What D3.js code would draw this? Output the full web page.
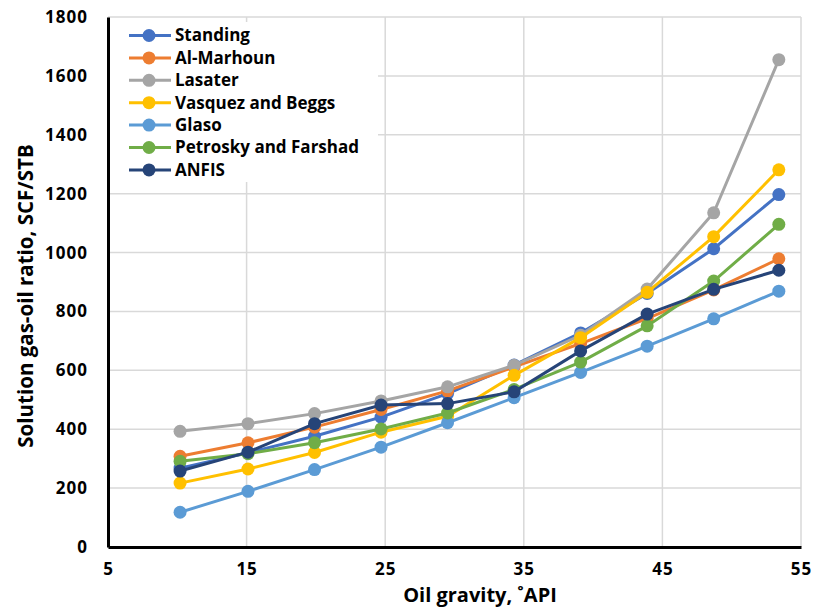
<!DOCTYPE html>
<meta charset="utf-8">
<style>
    body { margin: 0; background: #fff; }
    .tick text { font: bold 17px "Open Sans", sans-serif; fill: #000; letter-spacing: 1px; }
    .title { font: bold 20.5px "Open Sans", sans-serif; fill: #000; }
    .legend text { font: bold 17px "Open Sans", sans-serif; fill: #000; }
    .grid line { stroke: #d9d9d9; stroke-width: 1.5; }
</style>
<body>
<script src="https://d3js.org/d3.v7.min.js"></script>
<script>
    // Data
    var api = [10.2, 15.1, 19.9, 24.7, 29.5, 34.3, 39.1, 43.9, 48.7, 53.4];

    var standing = [268, 320, 376, 441, 521, 618, 727, 861, 1013, 1197];
    var alMarhoun = [308, 354, 407, 467, 530, 612, 691, 776, 873, 979];
    var lasater = [393, 419, 453, 496, 544, 617, 719, 876, 1135, 1655];
    var vasquez = [217, 265, 321, 390, 444, 583, 711, 865, 1054, 1281];
    var glaso = [118, 189, 263, 339, 422, 507, 593, 682, 775, 869];
    var petrosky = [291, 317, 354, 401, 455, 535, 628, 751, 903, 1096];
    var anfis = [258, 322, 419, 482, 487, 527, 666, 791, 875, 940];

    var seriesNames = ["Standing", "Al-Marhoun", "Lasater", "Vasquez and Beggs", "Glaso", "Petrosky and Farshad", "ANFIS"];
    var seriesValues = [standing, alMarhoun, lasater, vasquez, glaso, petrosky, anfis];
    var seriesColors = ["#4472C4", "#ED7D31", "#A5A5A5", "#FFC000", "#5B9BD5", "#70AD47", "#264478"];

    var xTicks = [5, 15, 25, 35, 45, 55];
    var yTicks = [0, 200, 400, 600, 800, 1000, 1200, 1400, 1600, 1800];

    var width = 814, height = 608;
    var margin = {top: 17, right: 13, bottom: 61, left: 108};

    var svg = d3.select("body").append("svg")
        .attr("width", width)
        .attr("height", height);

    var x = d3.scaleLinear().domain([5, 55]).range([margin.left, width - margin.right]);
    var y = d3.scaleLinear().domain([0, 1800]).range([height - margin.bottom, margin.top]);

    // Gridlines
    var grid = svg.append("g").attr("class", "grid");
    grid.selectAll(".h").data(yTicks.slice(1)).enter().append("line")
        .attr("x1", x(5)).attr("x2", x(55))
        .attr("y1", d => y(d)).attr("y2", d => y(d));
    grid.selectAll(".v").data(xTicks.slice(1)).enter().append("line")
        .attr("x1", d => x(d)).attr("x2", d => x(d))
        .attr("y1", y(0)).attr("y2", y(1800));

    // Axes
    var yAxis = svg.append("g")
        .attr("transform", "translate(" + x(5) + ",0)")
        .call(d3.axisLeft(y).tickValues(yTicks).tickFormat(d3.format("d")).tickSize(0).tickPadding(20));
    yAxis.select(".domain").attr("stroke", "#000").attr("stroke-width", 3);

    var xAxis = svg.append("g")
        .attr("transform", "translate(0," + y(0) + ")")
        .call(d3.axisBottom(x).tickValues(xTicks).tickFormat(d3.format("d")).tickSize(0).tickPadding(16));
    xAxis.select(".domain").attr("stroke", "#000").attr("stroke-width", 3);

    // Lines and markers
    var line = d3.line()
        .x((d, i) => x(api[i]))
        .y(d => y(d));

    seriesValues.forEach(function (vals, k) {
        var g = svg.append("g");
        g.append("path")
            .datum(vals)
            .attr("fill", "none")
            .attr("stroke", seriesColors[k])
            .attr("stroke-width", 3)
            .attr("d", line);
        g.selectAll("circle").data(vals).enter().append("circle")
            .attr("cx", (d, i) => x(api[i]))
            .attr("cy", d => y(d))
            .attr("r", 6.5)
            .attr("fill", seriesColors[k]);
    });

    // Legend
    var legend = svg.append("g").attr("class", "legend");
    legend.append("rect")
        .attr("x", x(5) + 2).attr("y", 22)
        .attr("width", 268).attr("height", 160)
        .attr("fill", "#fff");
    var rows = legend.selectAll(".row").data(seriesNames).enter().append("g")
        .attr("transform", (d, i) => "translate(0," + (35.5 + i * 22.4) + ")");
    rows.append("line")
        .attr("x1", 129).attr("x2", 171)
        .attr("stroke", (d, i) => seriesColors[i])
        .attr("stroke-width", 3);
    rows.append("circle")
        .attr("cx", 149).attr("r", 6.5)
        .attr("fill", (d, i) => seriesColors[i]);
    rows.append("text")
        .attr("x", 175).attr("dy", "0.35em")
        .text(d => d);

    // Axis titles
    svg.append("text")
        .attr("class", "title")
        .attr("text-anchor", "middle")
        .attr("transform", "translate(33,296) rotate(-90)")
        .text("Solution gas-oil ratio, SCF/STB");

    svg.append("text")
        .attr("class", "title")
        .attr("text-anchor", "middle")
        .style("font-size", "20px")
        .attr("x", 480)
        .attr("y", 602)
        .text("Oil gravity, ˚API");
</script>
</body>
